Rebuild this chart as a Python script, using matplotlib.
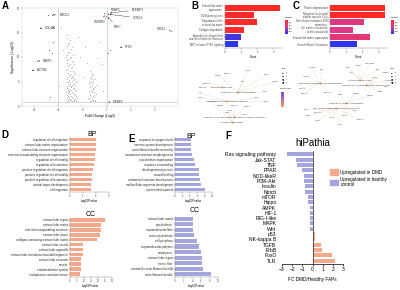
import matplotlib
matplotlib.use("Agg")
import matplotlib.pyplot as plt
import matplotlib.colors as mcolors
from matplotlib.patches import Patch

plt.rcParams['font.family'] = ['Liberation Sans', 'DejaVu Sans']

W, H = 400, 290

# ---------------- A: volcano ----------------
vol_grey = [(-0.70, 14.5), (-0.62, 13.8), (-0.55, 12.9), (-0.66, 12.2), (-0.48, 11.6), (-0.58, 11.0),
            (-0.40, 10.5), (-0.68, 10.1), (-0.52, 9.7), (-0.45, 9.2), (-0.62, 8.8), (-0.35, 8.5),
            (-0.56, 8.1), (-0.48, 7.7), (-0.70, 7.4), (-0.40, 7.1), (-0.60, 6.8), (-0.30, 6.5),
            (-0.52, 6.2), (-0.44, 5.9), (-0.66, 5.6), (-0.36, 5.3), (-0.58, 5.0), (-0.28, 4.8),
            (-0.50, 4.5), (-0.42, 4.2), (-0.62, 4.0), (-0.34, 3.7), (-0.55, 3.5), (-0.46, 3.2),
            (-0.26, 3.0), (-0.68, 2.8), (-0.38, 2.6), (-0.52, 2.4), (-0.30, 2.2), (-0.60, 2.0),
            (-0.44, 1.8), (-0.24, 1.6), (-0.56, 1.5), (-0.36, 1.3), (-0.48, 1.2), (-0.64, 1.1),
            (-0.28, 1.0), (-0.54, 3.0), (-0.40, 4.6), (-0.58, 2.6), (-0.46, 6.6), (-0.64, 9.3),
            (-0.50, 13.4), (-0.60, 12.6), (-0.44, 12.0), (-0.54, 10.8), (-0.62, 10.4), (-0.46, 10.0),
            (-0.58, 9.5), (-0.38, 9.0), (-0.50, 8.6), (-0.66, 8.3), (-0.42, 7.9), (-0.60, 7.5),
            (-0.52, 7.2), (-0.34, 6.9), (-0.56, 6.4), (-0.40, 6.1), (-0.62, 5.9), (-0.48, 5.7),
            (-0.32, 5.5), (-0.54, 5.3), (-0.44, 5.1), (-0.66, 4.8), (-0.36, 4.4), (-0.56, 4.2),
            (-0.30, 4.0), (-0.48, 3.9), (-0.64, 3.6), (-0.40, 3.4), (-0.32, 3.2), (-0.60, 3.3),
            (-0.44, 2.9), (-0.56, 2.8), (-0.34, 2.4), (-0.64, 2.3), (-0.46, 2.1), (-0.26, 2.0),
            (-0.54, 1.9), (-0.40, 1.6), (-0.66, 1.6), (-0.32, 1.5), (-0.50, 1.4), (-0.58, 1.2),
            (-0.42, 1.0), (-0.52, 1.0), (-0.34, 1.1), (-0.46, 4.0), (-0.52, 5.0), (-0.38, 5.8),
            (0.30, 7.2), (0.42, 6.6), (0.36, 6.0), (0.50, 5.5), (0.28, 5.0), (0.45, 4.6),
            (0.55, 4.2), (0.33, 3.8), (0.48, 3.4), (0.26, 3.1), (0.40, 2.8), (0.58, 2.5),
            (0.32, 2.2), (0.46, 1.9), (0.24, 1.7), (0.38, 1.5), (0.52, 1.3), (0.30, 1.1),
            (0.44, 1.0), (0.36, 3.3), (0.42, 2.0), (0.50, 3.9), (0.34, 6.8), (0.40, 6.3),
            (0.30, 5.7), (0.44, 5.2), (0.36, 4.9), (0.30, 4.4), (0.40, 4.1), (0.44, 3.6),
            (0.38, 3.0), (0.32, 2.6), (0.48, 2.3), (0.36, 1.8), (0.42, 1.3), (0.28, 1.4),
            (0.34, 1.0), (0.50, 1.1), (0.40, 5.6), (0.46, 2.9),
            (-0.90, 16.0), (-0.10, 10.0), (0.10, 12.0), (0.80, 8.5), (-0.95, 4.0), (0.70, 13.0),
            (0.05, 6.0), (-0.15, 14.0), (0.85, 3.0), (0.18, 8.8), (-0.80, 11.5), (0.62, 9.8)]
vol_down = [(-1.41, 18.6), (-1.25, 18.6), (-1.74, 15.9), (-1.21, 16.1), (-1.21, 13.1),
            (-1.37, 11.4), (-1.25, 10.8), (-1.86, 9.2), (-2.07, 7.3), (-1.33, 1.8)]
vol_up = [(0.90, 18.9), (0.98, 18.4), (1.05, 18.8), (1.13, 19.0), (0.95, 17.9),
          (1.14, 11.4), (1.05, 10.8), (1.01, 9.8), (1.55, 12.0), (3.68, 15.3), (1.05, 0.8)]
vol_genes = ['LMCD1', 'COL4A1', 'HBEP1', 'ACTN2', 'TGFBR3', 'NPAP5', 'EFEMP1',
             'SCRG1', 'FGF7', 'CHDL1', 'PTX3', 'IGFBP5']
vol_gene_x = [-1.25, -1.74, -1.86, -2.07, 0.93, 1.05, 1.13, 1.10, 1.02, 3.68, 1.55, 1.05]
vol_gene_y = [18.6, 15.9, 9.2, 7.3, 18.6, 18.6, 19.0, 18.7, 18.2, 15.3, 12.0, 0.8]

# ---------------- B / C: enrichment bars ----------------
b_terms = ['Extracellular matrix\norganization', 'ECM proteoglycans',
           'Degradation of the\nextracellular matrix', 'Collagen degradation',
           'Assembly of collagen fibrils\nand other multimeric structures',
           'MET activates PTK2 signaling']
b_count = [3.4, 1.8, 2.0, 1.2, 1.0, 0.8]
b_padj = [0.001, 0.002, 0.002, 0.003, 0.045, 0.048]

c_terms = ['Platelet degranulation', 'Response to elevated\nplatelet cytosolic Ca2+',
           'Non-integrin membrane-ECM\ninteractions', 'Cell surface interactions\nat the vascular wall',
           'Extracellular matrix organization', 'Smooth Muscle Contraction']
c_count = [3.4, 3.4, 2.1, 1.4, 2.5, 1.7]
c_padj = [0.001, 0.001, 0.021, 0.022, 0.018, 0.048]

# ---------------- B / C: networks ----------------
bnet_hubs = ['ECM proteoglycans', 'Extracellular matrix organization',
             'Degradation of the extracellular matrix',
             'Assembly of collagen fibrils and other multimeric structures', 'Collagen degradation']
bnet_hub_xy = [(222, 87), (238, 92), (226, 101), (234, 117), (232, 122)]
bnet_genes = ['LAMB1', 'COL5A1', 'SPARC', 'MMP2', 'TIMP1', 'FN1', 'COL1A2', 'COL3A1', 'LUM', 'DCN',
              'BGN', 'ELN', 'FBN1', 'COL6A1', 'LAMC1', 'HSPG2', 'VCAN', 'CTSK', 'MMP14', 'P4HA1']
bnet_gene_xy = [(218, 75), (228, 73), (248, 70), (267, 75), (275, 82), (243, 82), (203, 87),
                (207, 83), (200, 93), (200, 98), (265, 92), (257, 98), (267, 102), (235, 105),
                (247, 106), (220, 106), (230, 110), (228, 113), (212, 102), (245, 114)]
bnet_gene_hub = [1, 0, 1, 1, 1, 1, 0, 0, 2, 2, 1, 2, 2, 3, 3, 2, 3, 4, 4, 3]

cnet_hubs = ['Non-integrin membrane-ECM interactions', 'Platelet degranulation',
             'Response to elevated platelet cytosolic Ca2+', 'Extracellular matrix organization',
             'Cell surface interactions at the vascular wall']
cnet_hub_xy = [(320, 83), (360, 80), (366, 85), (346, 103), (336, 108)]
cnet_genes = ['THBS1', 'FN1', 'SPARC', 'VWF', 'TIMP1', 'SERPINE1', 'CD9', 'TGFB2', 'CLU', 'TLN1',
              'ACTN1', 'FLNA', 'ITGB3', 'LAMA4', 'COL4A1', 'COL4A2', 'NID1', 'LAMB2', 'HSPG2',
              'PECAM1', 'CD44', 'SDC4', 'ITGA5', 'MMP2', 'CAV1', 'PROS1', 'GAS6', 'F2R']
cnet_gene_xy = [(312, 68), (322, 70), (306, 76), (348, 68), (358, 66), (370, 64), (378, 70),
                (385, 73), (352, 73), (374, 78), (388, 80), (386, 86), (380, 92), (302, 88),
                (305, 93), (328, 92), (340, 95), (356, 93), (370, 96), (318, 112), (308, 116),
                (318, 121), (332, 117), (345, 116), (356, 110), (360, 120), (340, 124), (306, 110)]
cnet_gene_hub = [0, 0, 0, 1, 1, 1, 1, 2, 1, 2, 2, 2, 2, 0, 0, 0, 3, 3, 3, 4, 4, 4, 4, 3, 4, 4, 4, 4]

# ---------------- D / E: GO bars ----------------
d_bp_terms = ['regulation of cell migration', 'extracellular matrix organization',
              'extracellular structure organization', 'external encapsulating structure organization',
              'regulation of cell motility', 'regulation of locomotion',
              'positive regulation of cell migration', 'positive regulation of cell motility',
              'positive regulation of locomotion', 'animal organ development', 'cell migration']
d_bp_vals = [4.0, 4.0, 3.95, 3.9, 3.8, 3.7, 3.5, 3.4, 3.4, 3.3, 3.2]
d_cc_terms = ['extracellular region', 'extracellular matrix', 'external encapsulating structure',
              'extracellular space', 'collagen-containing extracellular matrix', 'extracellular vesicle',
              'extracellular organelle', 'extracellular membrane-bounded organelle',
              'extracellular exosome', 'vesicle', 'endomembrane system', 'endoplasmic reticulum lumen']
d_cc_vals = [25.0, 22.0, 22.0, 21.5, 19.3, 9.0, 9.0, 9.0, 7.5, 7.5, 7.5, 6.8]

e_bp_terms = ['response to oxygen levels', 'nervous system development', 'actin filament bundle assembly',
              'anatomical structure morphogenesis', 'cytoskeleton organization', 'response to wounding',
              'developmental process', 'wound healing', 'anatomical structure development',
              'multicellular organism development', 'system development']
e_bp_vals = [4.2, 4.2, 4.2, 4.5, 5.0, 5.4, 6.5, 6.6, 6.8, 6.9, 8.0]
e_cc_terms = ['extracellular matrix', 'cytoskeleton', 'supramolecular fiber', 'actin cytoskeleton',
              'cell periphery', 'supramolecular polymer', 'actomyosin', 'extracellular region',
              'stress fiber', 'contractile actin filament bundle', 'actin filament bundle']
e_cc_vals = [4.2, 4.2, 4.2, 4.4, 5.0, 5.6, 6.0, 6.2, 6.2, 6.4, 8.3]

# ---------------- F: hiPathia ----------------
f_paths = ['Ras signaling pathway', 'Jak-STAT', 'TNF', 'PPAR', 'NOD-likeR', 'PI3K-Akt', 'Insulin',
           'Notch', 'mTOR', 'Hippo', 'AMPK', 'HIF-1', 'RIG-I-like', 'MAPK', 'Wnt', 'p53',
           'NK-kappa B', 'TGFB', 'ErbB', 'FoxO', 'TLR']
f_fc = [-2.55, -1.67, -1.57, -1.08, -0.82, -0.82, -0.75, -0.69, -0.49, -0.43, -0.26, -0.26,
        -0.26, -0.26, -0.26, 0.23, 0.23, 0.79, 0.95, 1.93, 2.2]

SALMON = '#f5a98c'
LAVENDER = '#a3a5dc'

fig = plt.figure(figsize=(W / 100, H / 100), dpi=100)


def px_axes(l, t, r, b):
    return fig.add_axes([l / W, 1 - b / H, (r - l) / W, (b - t) / H])


def ftext(x, y, s, **kw):
    return fig.text(x / W, 1 - y / H, s, **kw)


def light_axes(ax, size=2.0):
    for sp in ax.spines.values():
        sp.set_linewidth(0.3)
        sp.set_color('#888888')
    ax.tick_params(labelsize=size, width=0.3, length=1, pad=0.5, colors='#444444')


# ---- panel letters
for lab, x, y in [('A', 2, 1), ('B', 191, 1), ('C', 293, 1), ('D', 1, 130), ('E', 128, 134), ('F', 225, 131)]:
    ftext(x, y, lab, fontsize=7, fontweight='bold', va='top', ha='left')

# ---- A volcano
ax = px_axes(22, 8, 178, 106)
ax.scatter([p[0] for p in vol_grey], [p[1] for p in vol_grey], s=0.5, c='#b0b0b0', lw=0)
ax.scatter([p[0] for p in vol_down], [p[1] for p in vol_down], s=0.6, c='#505070', lw=0)
ax.scatter([p[0] for p in vol_up], [p[1] for p in vol_up], s=0.6, c='#e04040', lw=0)
ax.axvline(-1, color='#c8c8c8', lw=0.5)
ax.axvline(1, color='#c8c8c8', lw=0.5)
ax.axhline(0.9, color='#c8c8c8', lw=0.5)
ax.set_xlim(-2.5, 3.95)
ax.set_ylim(0, 20)
ax.set_xticks([-2, -1, 0, 1, 2, 3])
ax.set_yticks([0, 5, 10, 15, 20])
light_axes(ax, 2.0)
for sp in ax.spines.values():
    sp.set_color('#cccccc')
ax.set_xlabel('Fold Change (Log2)', fontsize=2.4, labelpad=1.5)
ax.set_ylabel('Significance (-Log10)', fontsize=2.4, labelpad=1)
label_offsets = [(0.3, 0.0, 'left'), (0.17, 0.0, 'left'), (0.2, 0.0, 'left'), (0.17, 0.0, 'left'),
                 (-0.2, -1.4, 'center'), (0.3, 1.0, 'center'), (0.9, 0.6, 'left'), (0.98, -0.7, 'left'),
                 (0.45, -2.1, 'center'), (-0.2, 0.4, 'right'), (0.2, 0.0, 'left'), (0.2, 0.0, 'left')]
for g, gx, gy, (dx, dy, ha) in zip(vol_genes, vol_gene_x, vol_gene_y, label_offsets):
    ax.annotate(g, (gx, gy), (gx + dx, gy + dy), fontsize=2.2, ha=ha, va='center', color='#333333',
                arrowprops=dict(arrowstyle='-|>', lw=0.3, color='#333333', mutation_scale=1.5,
                                shrinkA=0.5, shrinkB=0.5))

# ---- B / C bars
cmap_bc = mcolors.LinearSegmentedColormap.from_list('bc', ['#ff2a1f', '#d93a95', '#2233ee'])
norm_bc = mcolors.Normalize(0, 0.05)


def enrich_bar(l, r, terms, counts, padj, cb_x):
    ax = px_axes(l, 4, r, 48)
    ypos = list(range(len(terms)))
    ax.barh(ypos, counts, height=0.8, color=[cmap_bc(norm_bc(p)) for p in padj])
    ax.set_ylim(len(terms) - 0.5, -0.5)
    ax.set_xlim(0, 3.6)
    ax.set_yticks(ypos)
    ax.set_yticklabels(terms, fontsize=1.6, linespacing=0.9)
    ax.set_xticks([0, 1, 2, 3])
    light_axes(ax, 1.8)
    for sp in ['top', 'right']:
        ax.spines[sp].set_visible(False)
    ax.set_xlabel('Count', fontsize=2, labelpad=0.8)
    cax = px_axes(cb_x, 20, cb_x + 3, 34)
    cb = fig.colorbar(plt.cm.ScalarMappable(norm=norm_bc, cmap=cmap_bc), cax=cax)
    cb.outline.set_linewidth(0)
    cb.set_ticks([0.01, 0.02, 0.03, 0.04])
    cax.tick_params(labelsize=1.4, width=0.2, length=0.6, pad=0.3)
    cax.invert_yaxis()
    ftext(cb_x, 18, 'p.adjust', fontsize=1.6)


enrich_bar(225, 283, b_terms, b_count, b_padj, 285)
enrich_bar(330, 388, c_terms, c_count, c_padj, 391)

# ---- B / C networks
cmap_net = mcolors.LinearSegmentedColormap.from_list('net', ['#f0a060', '#7744ee'])


def network(l, r, hubs, hub_xy, genes, gene_xy, gene_hub, legend_x):
    ax = px_axes(l, 60, r, 135)
    ax.set_xlim(l, r)
    ax.set_ylim(135, 60)
    ax.axis('off')
    for (gx, gy), h in zip(gene_xy, gene_hub):
        hx, hy = hub_xy[h]
        ax.plot([gx, hx], [gy, hy], color='#e8d8c8', lw=0.3, zorder=1)
    ax.scatter([p[0] for p in hub_xy], [p[1] for p in hub_xy], s=2, c='#f0b070', lw=0, zorder=2)
    for t, (x, y) in zip(hubs, hub_xy):
        ax.text(x, y, t, fontsize=1.7, ha='center', va='center', color='#333333', zorder=3)
    for g, (x, y) in zip(genes, gene_xy):
        ax.text(x, y, g, fontsize=1.5, ha='center', va='center', color='#444444', zorder=3)
    sizes = [2, 3, 4, 5]
    for i, s in enumerate(sizes):
        ftext(legend_x, 73 + i * 3.2, '\u25cf', fontsize=1.2 + s * 0.4, ha='center', va='center')
        ftext(legend_x + 3, 73 + i * 3.2, str(s), fontsize=1.4, va='center')
    ftext(legend_x - 1, 69, 'size', fontsize=1.5)


network(195, 290, bnet_hubs, bnet_hub_xy, bnet_genes, bnet_gene_xy, bnet_gene_hub, 283)
cax = px_axes(281, 92, 284, 107)
cb = fig.colorbar(plt.cm.ScalarMappable(norm=norm_bc, cmap=cmap_net), cax=cax)
cb.outline.set_linewidth(0)
cb.set_ticks([])
ftext(280, 89, 'fold change', fontsize=1.5)
network(298, 392, cnet_hubs, cnet_hub_xy, cnet_genes, cnet_gene_xy, cnet_gene_hub, 392)


# ---- D / E GO bars
def go_bar(l, r, t, b, terms, vals, color, xmax, xticks, title, title_xy, xlabel):
    ax = px_axes(l, t, r, b)
    ypos = list(range(len(terms)))
    ax.barh(ypos, vals, height=0.75, color=color)
    ax.set_ylim(len(terms) - 0.5, -0.5)
    ax.set_xlim(0, xmax)
    ax.set_yticks(ypos)
    ax.set_yticklabels(terms, fontsize=2.1)
    ax.set_xticks(xticks)
    light_axes(ax, 1.8)
    ax.tick_params(axis='y', labelsize=2.1, colors='#222222')
    for sp in ['top', 'right']:
        ax.spines[sp].set_visible(False)
    ax.set_xlabel(xlabel, fontsize=2.1, labelpad=1)
    ftext(title_xy[0], title_xy[1], title, fontsize=5, ha='center', va='center')


go_bar(70, 109, 137, 192, d_bp_terms, d_bp_vals, SALMON, 6, [0, 2, 4, 6], 'BP', (92, 135), '-log10Pvalue')
go_bar(70, 112, 217.5, 276.5, d_cc_terms, d_cc_vals, SALMON, 30, [0, 5, 10, 15, 20, 25, 30], 'CC',
       (91, 214), '-log10Pvalue')
go_bar(175, 212, 137, 192, e_bp_terms, e_bp_vals, LAVENDER, 10, [0, 2, 4, 6, 8, 10], 'BP', (191, 137),
       '-log10Pvalue')
go_bar(175, 218, 216, 277, e_cc_terms, e_cc_vals, LAVENDER, 10, [0, 2, 4, 6, 8, 10], 'CC', (195, 211),
       '-log10Pvalue')

# ---- F hiPathia
ax = px_axes(282, 151, 343, 264)
ypos = list(range(len(f_paths)))
ax.barh(ypos, f_fc, height=0.75, color=[SALMON if v > 0 else LAVENDER for v in f_fc])
ax.axvline(0, color='#222222', lw=0.5)
ax.set_xlim(-3, 3)
ax.set_ylim(len(f_paths) - 0.4, -0.6)
ax.set_yticks(ypos)
ax.set_yticklabels(f_paths, fontsize=3.6)
ax.set_xticks([-3, -2, -1, 0, 1, 2, 3])
for sp in ['top', 'right', 'left']:
    ax.spines[sp].set_visible(False)
ax.spines['bottom'].set_linewidth(0.5)
ax.tick_params(axis='x', labelsize=3.6, width=0.5, length=1.5, pad=1)
ax.tick_params(axis='y', length=0, pad=4)
ax.set_xlabel('FC DMD/Healthy FAPs', fontsize=3.4, labelpad=3)
ftext(313, 143, 'hiPathia', fontsize=7, ha='center', va='center')
fig.legend(handles=[Patch(color=SALMON, label='Upregulated in DMD'),
                    Patch(color=LAVENDER, label='Upregulated in healthy\ncontrol')],
           loc='upper left', bbox_to_anchor=(328 / W, 1 - 167 / H), fontsize=3.3, frameon=False,
           handlelength=1.6, handleheight=1.6, handletextpad=0.6, labelspacing=0.3, borderpad=0)

fig.savefig('out.png', dpi=100)
